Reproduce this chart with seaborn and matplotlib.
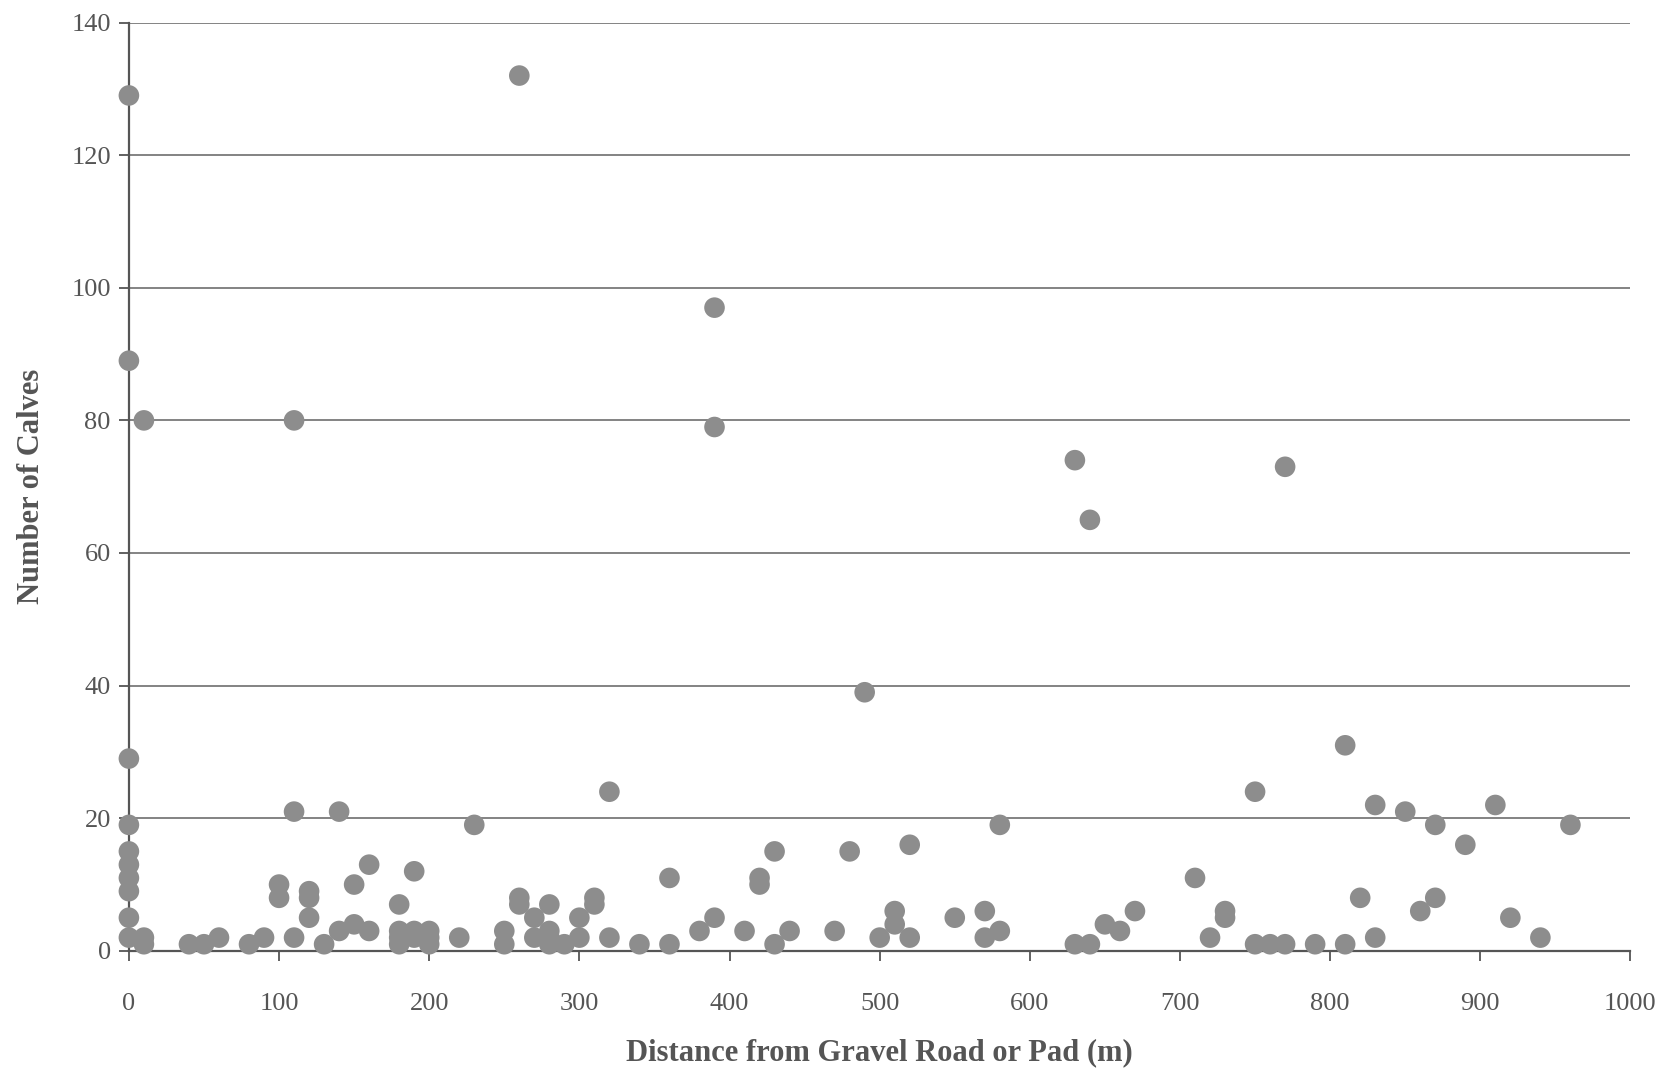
import matplotlib
matplotlib.use("Agg")
import matplotlib.pyplot as plt
import pandas as pd
import seaborn as sns

distance = [0, 0, 0, 0, 0, 0, 0, 0, 0, 0,
            10, 10, 10, 40, 50, 60, 80, 90,
            100, 100, 110, 110, 110, 120, 120, 120, 130, 140, 140,
            150, 150, 160, 160, 180, 180, 180, 180, 190, 190, 190,
            200, 200, 200, 220, 230, 250, 250, 260, 260, 260,
            270, 270, 280, 280, 280, 280, 290, 300, 300, 310, 310,
            320, 320, 340, 360, 360, 380, 390, 390, 390,
            410, 420, 420, 430, 430, 440, 470, 480, 490,
            500, 510, 510, 520, 520, 550, 570, 570, 580, 580,
            630, 630, 640, 640, 650, 660, 670,
            710, 720, 730, 730, 750, 750, 760, 770, 770, 790,
            810, 810, 820, 830, 830, 850, 860, 870, 870, 890,
            910, 920, 940, 960]
calves = [129, 89, 29, 19, 15, 13, 11, 9, 5, 2,
          80, 2, 1, 1, 1, 2, 1, 2,
          10, 8, 80, 21, 2, 9, 8, 5, 1, 21, 3,
          10, 4, 13, 3, 7, 3, 2, 1, 12, 3, 2,
          3, 2, 1, 2, 19, 3, 1, 132, 8, 7,
          5, 2, 7, 3, 2, 1, 1, 5, 2, 8, 7,
          24, 2, 1, 11, 1, 3, 97, 79, 5,
          3, 11, 10, 15, 1, 3, 3, 15, 39,
          2, 6, 4, 16, 2, 5, 6, 2, 19, 3,
          74, 1, 65, 1, 4, 3, 6,
          11, 2, 6, 5, 24, 1, 1, 73, 1, 1,
          31, 1, 8, 22, 2, 21, 6, 19, 8, 16,
          22, 5, 2, 19]

x_ticks = list(range(0, 1001, 100))
y_ticks = list(range(0, 141, 20))

df = pd.DataFrame({"distance": distance, "calves": calves})

sns.set_style("white")
plt.rcParams["font.family"] = ["Liberation Serif", "DejaVu Serif"]

fig = plt.figure(figsize=(16.74, 10.72), dpi=100)
ax = fig.add_axes([0.077, 0.113, 0.897, 0.866])

for yv in y_ticks[1:]:
    ax.axhline(yv, color="#7a7a7a", linewidth=1.3, zorder=1)

sns.scatterplot(data=df, x="distance", y="calves", ax=ax, color="#8d8d8d",
                s=220, edgecolor="none", linewidth=0, zorder=3, clip_on=False)

ax.set_xlim(0, 1000)
ax.set_ylim(0, 140)
ax.set_xticks(x_ticks)
ax.set_yticks(y_ticks)
ax.tick_params(axis="both", direction="out", length=7, width=1.3,
               color="#555555", labelcolor="#555555", labelsize=19)
ax.tick_params(axis="x", bottom=True, pad=23)
ax.tick_params(axis="y", left=True, pad=6)

for side in ["top", "right"]:
    ax.spines[side].set_visible(False)
for side in ["left", "bottom"]:
    ax.spines[side].set_color("#555555")
    ax.spines[side].set_linewidth(1.6)

ax.set_xlabel("Distance from Gravel Road or Pad (m)", fontsize=22,
              fontweight="bold", color="#555555", labelpad=17)
ax.set_ylabel("Number of Calves", fontsize=22, fontweight="bold",
              color="#555555", labelpad=18)

fig.savefig("out.png", dpi=100)
